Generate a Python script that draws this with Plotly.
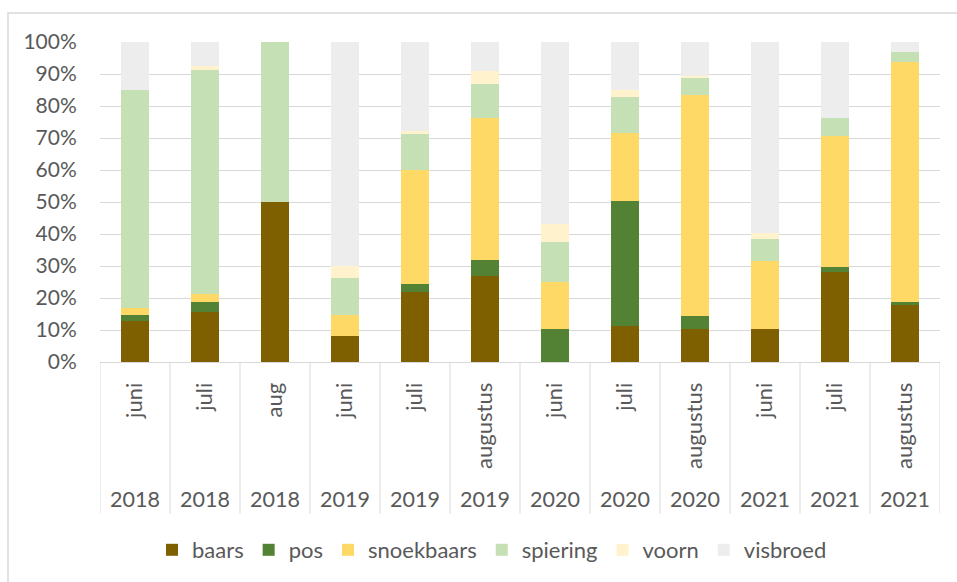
import plotly.graph_objects as go

months = ["juni", "juli", "aug", "juni", "juli", "augustus", "juni", "juli", "augustus", "juni", "juli", "augustus"]
years = ["2018", "2018", "2018", "2019", "2019", "2019", "2020", "2020", "2020", "2021", "2021", "2021"]

baars      = [12.8, 15.6, 50.0, 8.0, 21.9, 26.8, 0.0, 11.2, 10.4, 10.4, 28.2, 17.9]
pos        = [2.0, 3.1, 0.0, 0.0, 2.5, 5.2, 10.4, 39.1, 4.0, 0.0, 1.4, 0.9]
snoekbaars = [2.0, 2.5, 0.0, 6.8, 35.5, 44.1, 14.6, 21.2, 69.0, 21.1, 41.0, 75.1]
spiering   = [68.3, 69.9, 50.0, 11.5, 11.2, 10.9, 12.6, 11.2, 5.2, 6.9, 5.6, 3.1]
voorn      = [0.0, 1.5, 0.0, 3.6, 1.2, 4.0, 5.4, 2.3, 0.8, 1.8, 0.0, 0.0]
visbroed   = [14.9, 7.4, 0.0, 70.1, 27.7, 9.0, 57.0, 15.0, 10.6, 59.8, 23.8, 3.0]

series = [
    ("baars", baars, "#7f6000"),
    ("pos", pos, "#548235"),
    ("snoekbaars", snoekbaars, "#ffd966"),
    ("spiering", spiering, "#c5e0b4"),
    ("voorn", voorn, "#fff2cc"),
    ("visbroed", visbroed, "#ededed"),
]

cats = [f"{m} {y} #{i}" for i, (m, y) in enumerate(zip(months, years))]
FONT = "Lato"
TXT = "#595959"

fig = go.Figure()
for name, vals, col in series:
    fig.add_trace(go.Bar(
        x=cats, y=[v / 100 for v in vals], name=name,
        marker=dict(color=col, line=dict(width=0)),
    ))

W, H = 957, 582
L, R, T, B = 100, 17, 42, 219
pw, ph = W - L - R, H - T - B

def px_x(x):
    return (x - L) / pw

def px_y(y):
    return (H - B - y) / ph

shapes = []
# category dividers
for i in range(len(cats) + 1):
    shapes.append(dict(type="line", xref="x", yref="paper",
                       x0=i - 0.5, x1=i - 0.5, y0=0, y1=px_y(515),
                       line=dict(color="#d9d9d9", width=1)))
# chart border
shapes.append(dict(type="rect", xref="paper", yref="paper",
                   x0=px_x(8), x1=px_x(990), y0=px_y(620), y1=px_y(13),
                   line=dict(color="#d9d9d9", width=1.5), fillcolor="rgba(0,0,0,0)", layer="below"))

annotations = []
for c, y in zip(cats, years):
    annotations.append(dict(x=c, xref="x", y=px_y(500), yref="paper", text=y,
                            showarrow=False, xanchor="center", yanchor="middle",
                            font=dict(family=FONT, size=21.5, color=TXT)))

fig.update_layout(
    width=W, height=H,
    margin=dict(l=L, r=R, t=T, b=B, pad=0),
    paper_bgcolor="white", plot_bgcolor="white",
    barmode="stack", bargap=0.6,
    font=dict(family=FONT, color=TXT),
    shapes=shapes, annotations=annotations,
    legend=dict(orientation="h", x=px_x(492), xanchor="center", y=px_y(550), yanchor="middle",
                font=dict(family=FONT, size=22, color=TXT), traceorder="normal",
                itemwidth=30, bgcolor="rgba(0,0,0,0)"),
    xaxis=dict(type="category", tickvals=cats, ticktext=months, tickangle=-90,
               tickfont=dict(family=FONT, size=22, color=TXT),
               ticks="outside", ticklen=11, tickcolor="rgba(0,0,0,0)",
               showgrid=False, showline=True, linecolor="#d9d9d9", linewidth=1,
               range=[-0.5, len(cats) - 0.5]),
    yaxis=dict(range=[0, 1], dtick=0.1, tickformat=".0%",
               tickfont=dict(family=FONT, size=21, color=TXT),
               showgrid=True, gridcolor="#d9d9d9", gridwidth=1,
               zeroline=False, showline=False,
               ticks="outside", ticklen=18, tickcolor="rgba(0,0,0,0)"),
)

fig.write_html("out.html")
